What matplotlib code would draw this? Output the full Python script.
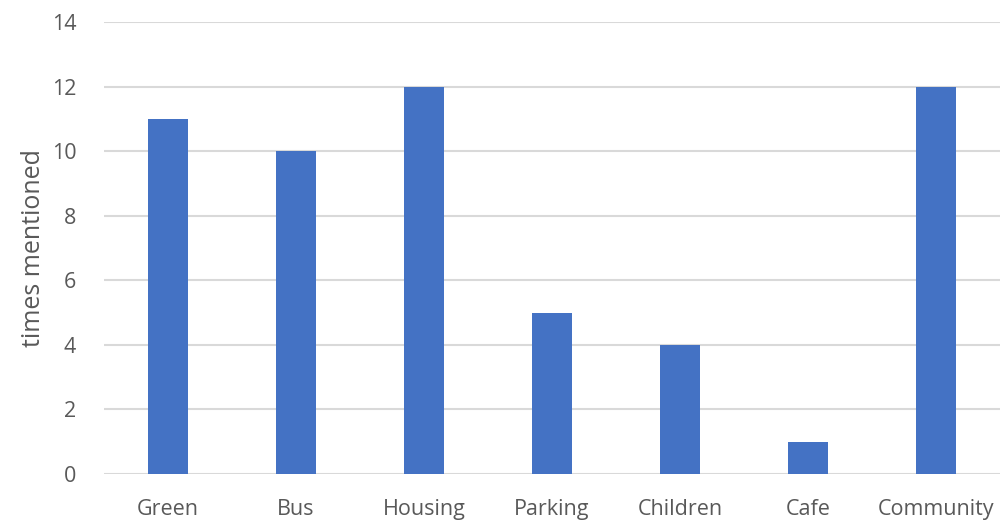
import matplotlib.pyplot as plt
import numpy as np

categories = ['Green', 'Bus', 'Housing', 'Parking', 'Children', 'Cafe', 'Community']
mentions = [11, 10, 12, 5, 4, 1, 12]

plt.rcParams['font.family'] = ['Open Sans', 'DejaVu Sans']

fig = plt.figure(figsize=(10, 5.26), dpi=100)
ax = fig.add_axes([0.104, 0.099, 0.896, 0.859])

x = np.arange(len(categories))
ax.bar(x, mentions, width=0.31, color='#4472C4', zorder=3)

ax.set_xlim(-0.5, len(categories) - 0.5)
ax.set_ylim(0, 14)
ax.set_yticks(range(0, 15, 2))
ax.set_xticks(x)
ax.set_xticklabels(categories)
ax.grid(axis='y', color='#d9d9d9', linewidth=1.5, zorder=0)
ax.tick_params(axis='both', length=0, labelsize=15.5, colors='#595959')
ax.tick_params(axis='x', pad=18)
ax.tick_params(axis='y', pad=20)
for s in ax.spines.values():
    s.set_visible(False)
ax.set_ylabel('times mentioned', fontsize=18, color='#595959', labelpad=4)

fig.savefig('out.png')
